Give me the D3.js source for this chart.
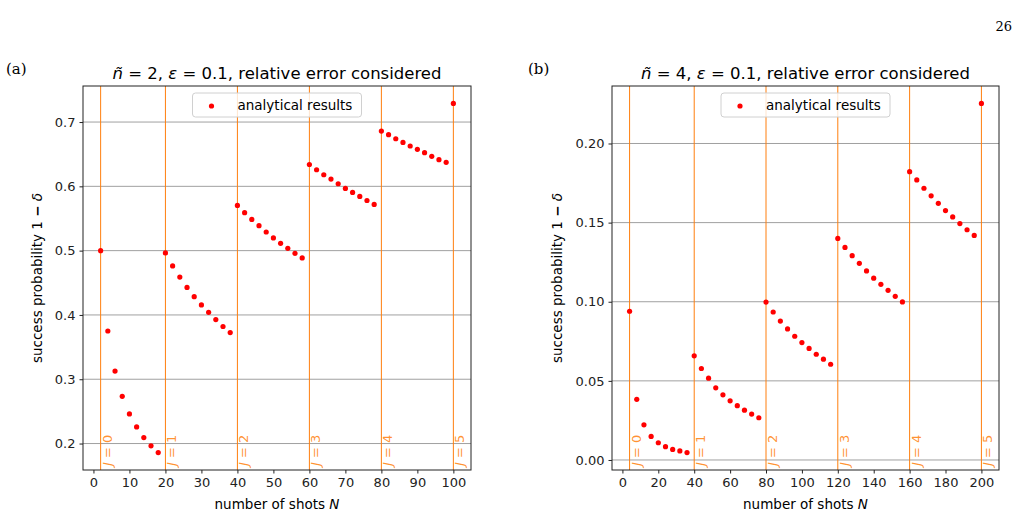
<!DOCTYPE html>
<html lang="en">
<head>
    <meta charset="UTF-8">
    <title>Success probability vs shots</title>
    <script src="https://d3js.org/d3.v7.min.js"></script>
    <style>
        body { margin: 0; background: #fff; }
        svg { display: block; font-family: "DejaVu Sans", sans-serif; }
    </style>
</head>
<body>
    <svg width="1021" height="516"></svg>

    <script>
        // ---- data ----
        const shotsA = [2, 4, 6, 8, 10, 12, 14, 16, 18,
            20, 22, 24, 26, 28, 30, 32, 34, 36, 38,
            40, 42, 44, 46, 48, 50, 52, 54, 56, 58,
            60, 62, 64, 66, 68, 70, 72, 74, 76, 78,
            80, 82, 84, 86, 88, 90, 92, 94, 96, 98,
            100];
        const probA = [0.5, 0.375, 0.3127, 0.2734, 0.2461, 0.2259, 0.2093, 0.1964, 0.1860,
            0.4964, 0.4763, 0.4589, 0.4428, 0.4284, 0.4155, 0.4041, 0.3928, 0.3820, 0.3726,
            0.5703, 0.5590, 0.5486, 0.5388, 0.5290, 0.5197, 0.5113, 0.5036, 0.4958, 0.4886,
            0.6340, 0.6258, 0.6180, 0.6113, 0.6040, 0.5967, 0.5905, 0.5843, 0.5780, 0.5719,
            0.6860, 0.6803, 0.6740, 0.6683, 0.6627, 0.6575, 0.6523, 0.6466, 0.6415, 0.6373,
            0.7289];

        const shotsB = [4, 8, 12, 16, 20, 24, 28, 32, 36,
            40, 44, 48, 52, 56, 60, 64, 68, 72, 76,
            80, 84, 88, 92, 96, 100, 104, 108, 112, 116,
            120, 124, 128, 132, 136, 140, 144, 148, 152, 156,
            160, 164, 168, 172, 176, 180, 184, 188, 192, 196,
            200];
        const probB = [0.0940, 0.0383, 0.0222, 0.0149, 0.0109, 0.0084, 0.0067, 0.0057, 0.0047,
            0.0658, 0.0578, 0.0517, 0.0456, 0.0412, 0.0374, 0.0343, 0.0315, 0.0290, 0.0267,
            0.0998, 0.0935, 0.0878, 0.0828, 0.0782, 0.0742, 0.0705, 0.0668, 0.0637, 0.0605,
            0.1400, 0.1343, 0.1291, 0.1243, 0.1195, 0.1149, 0.1110, 0.1072, 0.1034, 0.0999,
            0.1822, 0.1770, 0.1717, 0.1669, 0.1622, 0.1576, 0.1536, 0.1494, 0.1455, 0.1419,
            0.2253];

        const jLinesA = [2, 20, 40, 60, 80, 100];
        const jLinesB = [4, 40, 80, 120, 160, 200];
        const jLabels = ["0", "1", "2", "3", "4", "5"];

        const xTicksA = [0, 10, 20, 30, 40, 50, 60, 70, 80, 90, 100];
        const yTicksA = [0.2, 0.3, 0.4, 0.5, 0.6, 0.7];
        const xTicksB = [0, 20, 40, 60, 80, 100, 120, 140, 160, 180, 200];
        const yTicksB = [0.00, 0.05, 0.10, 0.15, 0.20];

        const svg = d3.select("svg");
        const orange = "#ff7f0e";

        // page number
        svg.append("text")
            .attr("x", 1012).attr("y", 31)
            .attr("text-anchor", "end")
            .style("font-family", "'DejaVu Serif', serif")
            .style("font-size", "13px")
            .text("26");

        function pad(ext) {
            const m = (ext[1] - ext[0]) * 0.05;
            return [ext[0] - m, ext[1] + m];
        }

        function drawPanel(cfg) {
            const left = cfg.left, right = cfg.right, top = 86, bottom = 470;
            const x = d3.scaleLinear().domain(pad(d3.extent(cfg.shots))).range([left, right]);
            const y = d3.scaleLinear().domain(pad(d3.extent(cfg.prob))).range([bottom, top]);
            const g = svg.append("g");

            // panel letter
            g.append("text")
                .attr("x", cfg.letterX).attr("y", 74)
                .style("font-family", "'DejaVu Serif', serif")
                .style("font-size", "15px")
                .text(cfg.letter);

            // title
            const t = g.append("text")
                .attr("x", (left + right) / 2).attr("y", 79)
                .attr("text-anchor", "middle")
                .style("font-size", "16.5px");
            t.append("tspan").style("font-style", "italic").text("ñ");
            t.append("tspan").text(" = " + cfg.n + ", ");
            t.append("tspan").style("font-style", "italic").text("ε");
            t.append("tspan").text(" = 0.1, relative error considered");

            // horizontal grid
            g.selectAll(".grid").data(cfg.yTicks).enter().append("line")
                .attr("x1", left).attr("x2", right)
                .attr("y1", d => y(d)).attr("y2", d => y(d))
                .attr("stroke", "#a0a0a0").attr("stroke-width", 1);

            // J lines
            g.selectAll(".jl").data(cfg.jLines).enter().append("line")
                .attr("x1", d => x(d)).attr("x2", d => x(d))
                .attr("y1", top).attr("y2", bottom)
                .attr("stroke", orange).attr("stroke-width", 1);

            // J labels
            const jl = g.selectAll(".jt").data(cfg.jLines).enter().append("text")
                .attr("transform", d => "translate(" + (x(d) + 11) + ",466) rotate(-90)")
                .attr("fill", orange)
                .attr("fill-opacity", 0.85)
                .style("font-size", "13px");
            jl.append("tspan").style("font-style", "italic").text("J");
            jl.append("tspan").text((d, i) => " = " + jLabels[i]);

            // points
            g.selectAll(".pt").data(cfg.shots).enter().append("circle")
                .attr("cx", d => x(d))
                .attr("cy", (d, i) => y(cfg.prob[i]))
                .attr("r", 2.6)
                .attr("fill", "red");

            // axes
            const xAxis = g.append("g")
                .attr("transform", "translate(0," + bottom + ")")
                .call(d3.axisBottom(x).tickValues(cfg.xTicks).tickSize(3.5).tickPadding(4).tickFormat(d3.format("d")));
            const yAxis = g.append("g")
                .attr("transform", "translate(" + left + ",0)")
                .call(d3.axisLeft(y).tickValues(cfg.yTicks).tickSize(3.5).tickPadding(4).tickFormat(d3.format(cfg.yFmt)));
            [xAxis, yAxis].forEach(a => {
                a.select(".domain").remove();
                a.selectAll("text").style("font-size", "13px").style("font-family", "'DejaVu Sans', sans-serif").attr("fill", "#222");
                a.selectAll("line").attr("stroke", "#222");
            });

            // frame
            g.append("rect")
                .attr("x", left).attr("y", top)
                .attr("width", right - left).attr("height", bottom - top)
                .attr("fill", "none").attr("stroke", "#222").attr("stroke-width", 1);

            // legend
            const lw = 169, lx = (left + right) / 2 - lw / 2;
            g.append("rect")
                .attr("x", lx).attr("y", 93)
                .attr("width", lw).attr("height", 24)
                .attr("rx", 3)
                .attr("fill", "white").attr("fill-opacity", 0.8)
                .attr("stroke", "#d0d0d0");
            g.append("circle")
                .attr("cx", lx + 19).attr("cy", 106).attr("r", 2.6).attr("fill", "red");
            g.append("text")
                .attr("x", lx + 45).attr("y", 110)
                .style("font-size", "13.5px")
                .text("analytical results");

            // axis labels
            const xl = g.append("text")
                .attr("x", (left + right) / 2).attr("y", 509)
                .attr("text-anchor", "middle")
                .style("font-size", "13.5px");
            xl.append("tspan").text("number of shots ");
            xl.append("tspan").style("font-style", "italic").text("N");

            const yl = g.append("text")
                .attr("transform", "translate(" + cfg.yLabelX + "," + ((top + bottom) / 2) + ") rotate(-90)")
                .attr("text-anchor", "middle")
                .style("font-size", "13.5px");
            yl.append("tspan").text("success probability 1 ");
            yl.append("tspan").style("font-weight", "bold").text("−");
            yl.append("tspan").text(" ");
            yl.append("tspan").style("font-style", "italic").text("δ");
        }

        drawPanel({
            left: 83, right: 471, shots: shotsA, prob: probA, jLines: jLinesA,
            xTicks: xTicksA, yTicks: yTicksA, yFmt: ".1f", n: 2,
            letter: "(a)", letterX: 6, yLabelX: 42
        });
        drawPanel({
            left: 612, right: 999, shots: shotsB, prob: probB, jLines: jLinesB,
            xTicks: xTicksB, yTicks: yTicksB, yFmt: ".2f", n: 4,
            letter: "(b)", letterX: 528, yLabelX: 562
        });
    </script>
</body>
</html>
